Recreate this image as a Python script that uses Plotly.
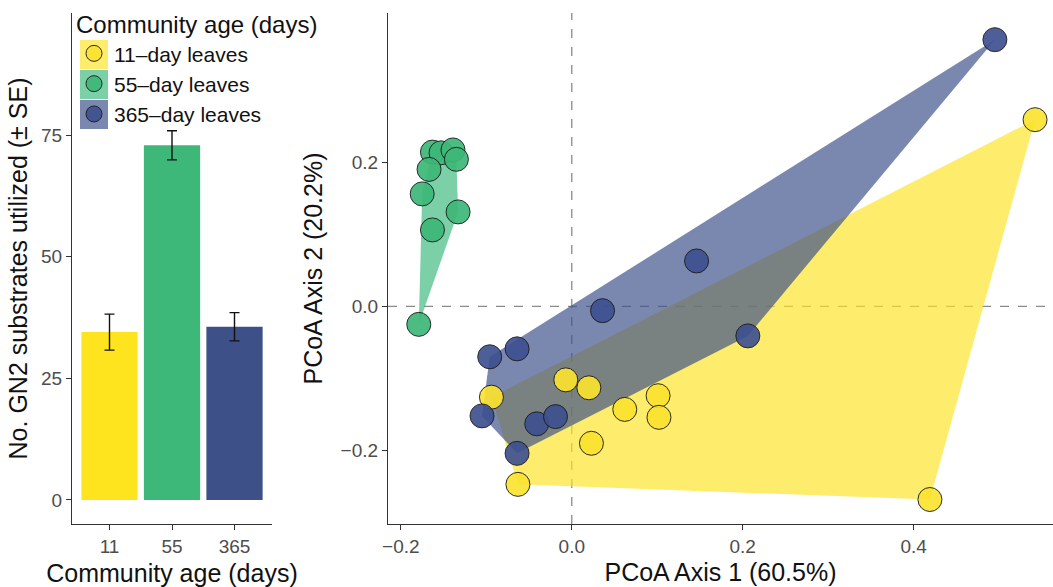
import numpy as np
import plotly.graph_objects as go

# ---------------- data ----------------
ages = ["11", "55", "365"]
group_names = ["11\u2013day leaves", "55\u2013day leaves", "365\u2013day leaves"]
substrates_mean = [34.5, 72.9, 35.6]
substrates_se = [3.7, 3.0, 2.9]

pcoa1_11 = [0.542, 0.419, -0.094, -0.007, 0.020, 0.062, 0.101, 0.102, 0.023, -0.063]
pcoa2_11 = [0.259, -0.268, -0.126, -0.102, -0.113, -0.143, -0.124, -0.154, -0.190, -0.247]

pcoa1_55 = [-0.163, -0.153, -0.139, -0.135, -0.167, -0.175, -0.133, -0.163, -0.179]
pcoa2_55 = [0.214, 0.213, 0.217, 0.204, 0.190, 0.156, 0.131, 0.106, -0.025]

pcoa1_365 = [0.495, -0.096, -0.064, 0.036, 0.146, 0.206, -0.105, -0.041, -0.019, -0.064]
pcoa2_365 = [0.370, -0.070, -0.059, -0.006, 0.063, -0.041, -0.152, -0.163, -0.153, -0.204]

x_ticks_pcoa = [-0.2, 0.0, 0.2, 0.4]
y_ticks_pcoa = [-0.2, 0.0, 0.2]
y_ticks_bar = [0, 25, 50, 75]

# ---------------- style ----------------
bar_colors = ["#FDE41F", "#3DB878", "#3D5088"]
pt_colors = ["#FBE330", "#3DB878", "#3E5190"]
hull_colors = ["rgba(253,228,40,0.68)", "rgba(53,183,121,0.65)", "rgba(59,80,139,0.68)"]
FONT = "Liberation Sans, Arial, sans-serif"
W, H = 1053, 587
MT, MB = 13, 63
PH = H - MT - MB


def convex_hull(xs, ys):
    pts = sorted(set(zip(xs, ys)))
    if len(pts) < 3:
        return pts

    def cross(o, a, b):
        return (a[0] - o[0]) * (b[1] - o[1]) - (a[1] - o[1]) * (b[0] - o[0])

    lower = []
    for p in pts:
        while len(lower) >= 2 and cross(lower[-2], lower[-1], p) <= 0:
            lower.pop()
        lower.append(p)
    upper = []
    for p in reversed(pts):
        while len(upper) >= 2 and cross(upper[-2], upper[-1], p) <= 0:
            upper.pop()
        upper.append(p)
    return lower[:-1] + upper[:-1]


fig = go.Figure()

# bars
fig.add_trace(go.Bar(
    x=ages, y=substrates_mean, width=0.9,
    marker=dict(color=bar_colors, line=dict(width=0)),
    error_y=dict(type="data", array=substrates_se, color="#111111", thickness=1.4, width=5),
    showlegend=False, xaxis="x", yaxis="y",
))

groups = [(pcoa1_11, pcoa2_11), (pcoa1_55, pcoa2_55), (pcoa1_365, pcoa2_365)]

# hulls
for i, (gx, gy) in enumerate(groups):
    hull = convex_hull(gx, gy)
    hx = [p[0] for p in hull] + [hull[0][0]]
    hy = [p[1] for p in hull] + [hull[0][1]]
    fig.add_trace(go.Scatter(
        x=hx, y=hy, mode="lines", fill="toself", fillcolor=hull_colors[i],
        line=dict(width=0), hoverinfo="skip", showlegend=False,
        xaxis="x2", yaxis="y2",
    ))

# points
for i, (gx, gy) in enumerate(groups):
    fig.add_trace(go.Scatter(
        x=gx, y=gy, mode="markers", name=group_names[i], legendgroup=group_names[i],
        marker=dict(size=24, color=pt_colors[i], opacity=0.92,
                    line=dict(color="#1a1a1a", width=1)),
        xaxis="x2", yaxis="y2", showlegend=True,
    ))

axis_common = dict(
    showgrid=False, zeroline=False, showline=True, linecolor="#333333", linewidth=1.3,
    ticks="outside", ticklen=5, tickcolor="#333333", tickwidth=1.2, automargin=False,
    tickfont=dict(family=FONT, size=19, color="#4d4d4d"),
)
title_font = dict(family=FONT, size=25, color="#111111")


def py(pix):
    return 1 - (pix - MT) / PH


# key backgrounds for legend
shapes = []
key_top = 40
for i in range(3):
    shapes.append(dict(
        type="rect", xref="paper", yref="paper", layer="above",
        x0=80 / W, x1=108 / W,
        y0=py(key_top + 30 * i + 29), y1=py(key_top + 30 * i),
        fillcolor=hull_colors[i], line=dict(width=0),
    ))
# dashed reference lines
shapes.append(dict(type="line", xref="x2", yref="y2 domain", x0=0, x1=0, y0=0, y1=1,
                   line=dict(color="#8a8a8a", width=1.3, dash="dash"), layer="below"))
shapes.append(dict(type="line", xref="x2 domain", yref="y2", x0=0, x1=1, y0=0, y1=0,
                   line=dict(color="#8a8a8a", width=1.3, dash="dash"), layer="below"))

fig.update_layout(
    width=W, height=H, autosize=False,
    margin=dict(l=0, r=0, t=MT, b=MB),
    plot_bgcolor="white", paper_bgcolor="white",
    font=dict(family=FONT, color="#111111"),
    bargap=0.1,
    xaxis=dict(domain=[72 / W, 272 / W], type="category", range=[-0.6, 2.6],
               title=dict(text="Community age (days)", font=title_font, standoff=9),
               **axis_common),
    yaxis=dict(domain=[0, 1], range=[-4.95, 100.1], tickvals=y_ticks_bar,
               title=dict(text="No. GN2 substrates utilized (\u00b1 SE)", font=title_font, standoff=6),
               **axis_common),
    xaxis2=dict(domain=[388 / W, 1.0], range=[-0.215, 0.563], tickvals=x_ticks_pcoa, tickformat=".1f",
                anchor="y2",
                title=dict(text="PCoA Axis 1 (60.5%)", font=title_font, standoff=7),
                **axis_common),
    yaxis2=dict(domain=[0, 1], range=[-0.302, 0.407], tickvals=y_ticks_pcoa, tickformat=".1f",
                anchor="x2",
                title=dict(text="PCoA Axis 2 (20.2%)", font=title_font, standoff=10),
                **axis_common),
    legend=dict(
        x=74 / W, y=py(2), xanchor="left", yanchor="top",
        title=dict(text="Community age (days)", font=dict(family=FONT, size=24, color="#111111")),
        font=dict(family=FONT, size=21, color="#111111"),
        bgcolor="rgba(0,0,0,0)", tracegroupgap=0, itemsizing="trace",
    ),
    shapes=shapes,
)

fig.write_html("out.html")
